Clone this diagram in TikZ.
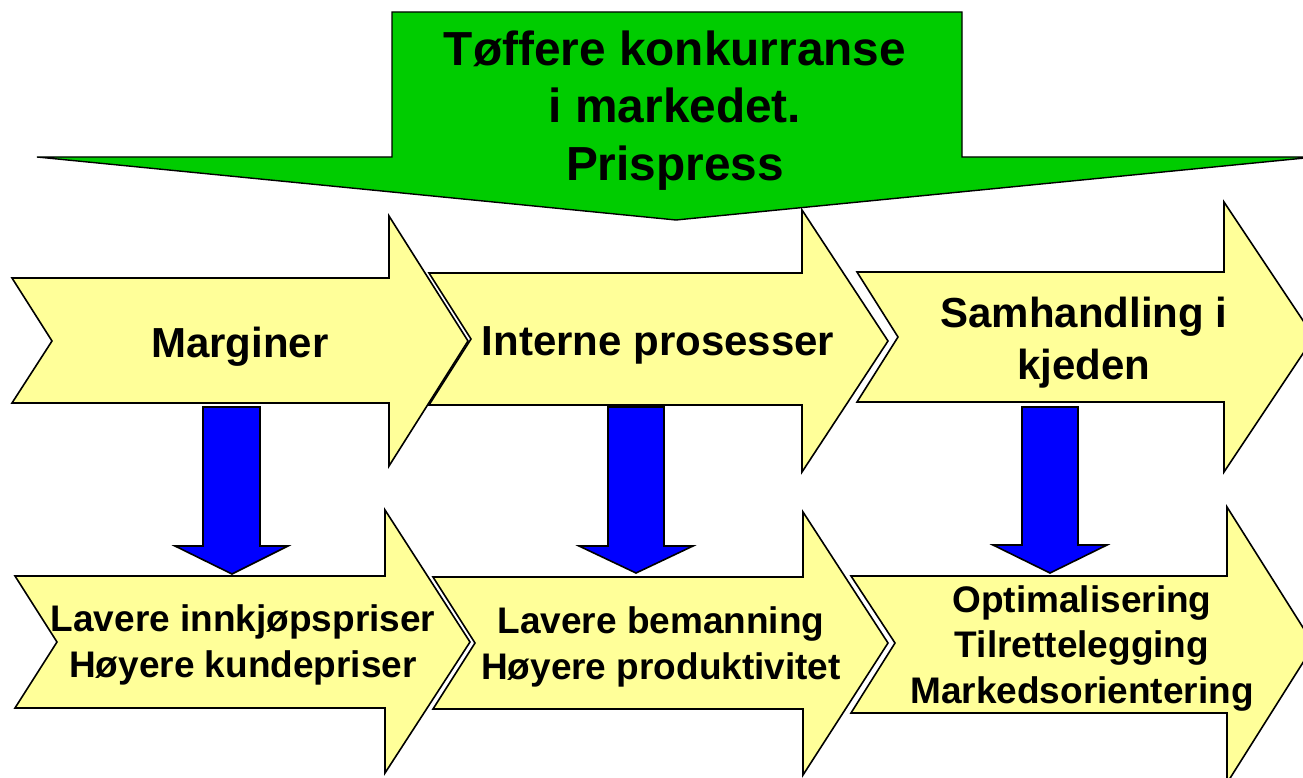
\documentclass[tikz,border=0pt]{standalone}
\usepackage{fontspec}
\setmainfont{Liberation Sans}
\definecolor{ylw}{HTML}{FFFF99}
\definecolor{grn}{HTML}{00CC00}
\definecolor{blu}{HTML}{0000FF}
\tikzset{
  chev/.style={fill=ylw, draw=black, line width=1.6pt, line join=miter},
  bigarrow/.style={fill=grn, draw=black, line width=1.4pt, line join=miter},
  downarrow/.style={fill=blu, draw=black, line width=1.6pt, line join=miter},
  toplbl/.style={inner sep=0pt, align=center, font=\bfseries\fontsize{42}{52}\selectfont},
  botlbl/.style={inner sep=0pt, align=center, font=\bfseries\fontsize{37}{45.5}\selectfont},
  greenlbl/.style={inner sep=0pt, align=center, font=\bfseries\fontsize{47.8}{57.5}\selectfont}
}
\begin{document}
\begin{tikzpicture}[x=1pt, y=-1pt]
\useasboundingbox (0,0) rectangle (1303,778);
\clip (0,0) rectangle (1303,778);
\fill[white] (0,0) rectangle (1303,778);
% top row chevrons
\draw[chev] (12,278) -- (389,278) -- (389,216) -- (468,341) -- (389,466) -- (389,403) -- (12,403) -- (52,341) -- cycle;
\draw[chev] (429,273) -- (802,273) -- (802,210) -- (888,341) -- (802,472) -- (802,405) -- (429,405) -- (471,339) -- cycle;
\draw[chev] (857,272) -- (1224,272) -- (1224,202) -- (1314,337) -- (1224,472) -- (1224,402) -- (857,402) -- (898,337) -- cycle;
% bottom row chevrons
\draw[chev] (15,576) -- (385,576) -- (385,510) -- (470,642) -- (385,773) -- (385,708) -- (15,708) -- (57,642) -- cycle;
\draw[chev] (433,577) -- (803,577) -- (803,512) -- (888,643) -- (803,775) -- (803,709) -- (433,709) -- (475,643) -- cycle;
\draw[chev] (851,576) -- (1227,576) -- (1227,507) -- (1314,645) -- (1227,783) -- (1227,713) -- (851,713) -- (895,643) -- cycle;
% green arrow
\draw[bigarrow] (392,12) -- (962,12) -- (962,157) -- (1315,157) -- (676,220) -- (37,157) -- (392,157) -- cycle;
% blue arrows
\draw[downarrow] (203,407) -- (260,407) -- (260,546) -- (288,546) -- (232,574) -- (175,546) -- (203,546) -- cycle;
\draw[downarrow] (608,407) -- (664,407) -- (664,546) -- (693,546) -- (636,573) -- (579,546) -- (608,546) -- cycle;
\draw[downarrow] (1022,407) -- (1078,407) -- (1078,545) -- (1107,545) -- (1050,573) -- (993,545) -- (1022,545) -- cycle;
% labels
\node[greenlbl] (g) at (675,110.5) {Tøffere konkurranse\\i markedet.\\Prispress};
\node[toplbl] (t1) at (240,347) {Marginer};
\node[toplbl] (t2) at (658,345) {Interne prosesser};
\node[toplbl] (t3) at (1084,343) {Samhandling i\\kjeden};
\node[botlbl] (b1) at (243,645) {Lavere innkjøpspriser\\Høyere kundepriser};
\node[botlbl] (b2) at (661,647) {Lavere bemanning\\Høyere produktivitet};
\node[botlbl] (b3) at (1082,648.5) {Optimalisering\\Tilrettelegging\\Markedsorientering};
\end{tikzpicture}
\end{document}
